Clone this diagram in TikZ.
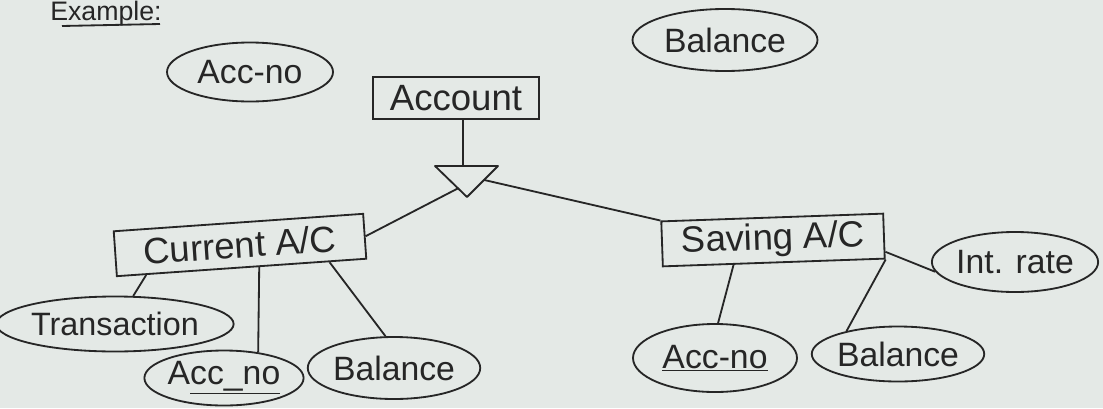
\documentclass[tikz,border=0pt]{standalone}
\usepackage{fontspec}
\setmainfont{Liberation Sans}
\usetikzlibrary{shapes.geometric,calc}
\definecolor{paper}{RGB}{228,233,230}
\definecolor{ink}{RGB}{38,38,38}
\begin{document}
\begin{tikzpicture}[x=0.025cm,y=-0.025cm,
  pen/.style={draw=ink,line width=1.3pt},
  sz/.style 2 args={minimum width=#1*0.025cm,minimum height=#2*0.025cm},
  entity/.style={pen,rectangle,inner sep=0pt,text=ink,font=\fontsize{26}{30}\selectfont},
  attr/.style={pen,ellipse,inner sep=0pt,text=ink,font=\fontsize{24}{28}\selectfont}]
\fill[paper] (0,0) rectangle (1103,408);
\useasboundingbox (0,0) rectangle (1103,408);

% heading
\node[anchor=base west,inner sep=0pt,text=ink,font=\fontsize{19}{22}\selectfont] (head) at (50,20) {Example:};
\coordinate (ulA) at (62,26);
\coordinate (ulB) at (160,24);
\draw[pen] (ulA) -- (ulB);

% entities
\node[entity,sz={166}{42}] (account) at (456,98) {Account};
\node[entity,sz={250}{45},rotate=4] (cur) at (240,245) {Current A/C};
\node[entity,sz={222}{45},rotate=2] (sav) at (773,240) {Saving A/C};

% attributes
\node[attr,sz={166}{59}] (accno) at (250,72) {Acc-no};
\node[attr,sz={185}{62}] (baltop) at (725,40) {Balance};
\node[attr,sz={215}{55},font=\fontsize{23}{28}\selectfont] (trans) at (115,324) {Transaction};
\node[attr,sz={147}{55}] (acc1) at (224,378) {A\underline{cc\_no}};
\node[attr,sz={152}{62}] (bal1) at (394,368) {Balance};
\node[attr,sz={164}{68}] (acc2) at (715,358) {\underline{Acc-no}};
\node[attr,sz={163}{55}] (bal2) at (898,354) {Balance};
\node[attr,sz={155}{60}] (int) at (1015,262) {Int. rate};

% ISA triangle
\coordinate (isaL) at (435,166);
\coordinate (isaR) at (498,166);
\coordinate (isaB) at (467,197);
\coordinate (isaT) at (463,166);
\draw[pen,line join=round] (isaL) -- (isaR) -- (isaB) -- cycle;

% connectors
\draw[pen] (account.south -| isaT) -- (isaT);
\draw[pen] ($(isaL)!0.72!(isaB)$) -- (cur.east);
\draw[pen] ($(isaR)!0.45!(isaB)$) -- (sav.north west);
\draw[pen] ($(cur.south west)!0.12!(cur.south east)$) -- (trans.57);
\draw[pen] ($(cur.south west)!0.57!(cur.south east)$) -- (acc1.37);
\draw[pen] ($(cur.south west)!0.85!(cur.south east)$) -- (bal1.105);
\draw[pen] ($(sav.south west)!0.32!(sav.south east)$) -- (acc2.85);
\draw[pen] (sav.south east) -- (bal2.156);
\draw[pen] (sav.-8) -- (int.187);
\end{tikzpicture}
\end{document}
